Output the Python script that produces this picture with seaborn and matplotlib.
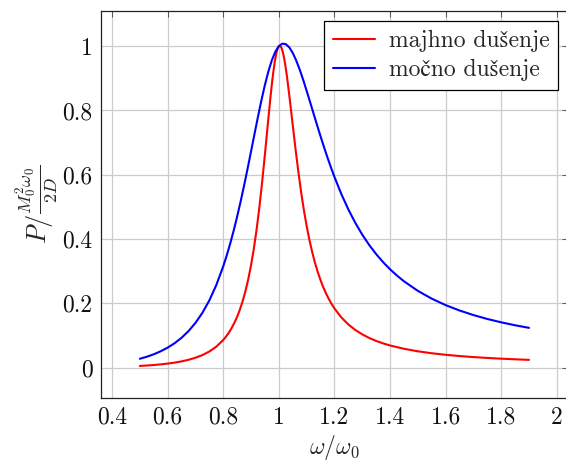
import matplotlib
matplotlib.use("Agg")
import matplotlib.pyplot as plt
import seaborn as sns
import pandas as pd

# Values
x_red = [0.5, 0.525, 0.55, 0.575, 0.6, 0.625, 0.65, 0.675, 0.7, 0.725, 0.75, 0.775,
         0.8, 0.81, 0.82, 0.83, 0.84, 0.85, 0.86, 0.87, 0.88, 0.89, 0.9, 0.91, 0.92,
         0.93, 0.94, 0.95, 0.96, 0.97, 0.975, 0.98, 0.985, 0.99, 0.995, 1.0, 1.005,
         1.01, 1.015, 1.02, 1.025, 1.03, 1.04, 1.05, 1.06, 1.07, 1.08, 1.09, 1.1,
         1.11, 1.12, 1.13, 1.14, 1.15, 1.16, 1.17, 1.18, 1.19, 1.2, 1.225, 1.25,
         1.275, 1.3, 1.325, 1.35, 1.375, 1.4, 1.45, 1.5, 1.55, 1.6, 1.65, 1.7, 1.75,
         1.8, 1.85, 1.9]
y_red = [0.0054, 0.0066, 0.0082, 0.0102, 0.0126, 0.0156, 0.0195, 0.0244, 0.0308,
         0.0391, 0.0502, 0.0652, 0.086, 0.0965, 0.1087, 0.1228, 0.1392, 0.1583,
         0.1807, 0.2071, 0.2382, 0.2749, 0.3183, 0.3695, 0.4293, 0.4986, 0.5772,
         0.6635, 0.7539, 0.8419, 0.8822, 0.9185, 0.9494, 0.9739, 0.9909, 1.0, 1.0009,
         0.9939, 0.9794, 0.9584, 0.9318, 0.9009, 0.8304, 0.755, 0.6806, 0.6108,
         0.5473, 0.4908, 0.441, 0.3975, 0.3595, 0.3264, 0.2975, 0.2722, 0.25, 0.2305,
         0.2132, 0.1979, 0.1843, 0.1561, 0.1344, 0.1173, 0.1036, 0.0924, 0.0832,
         0.0755, 0.069, 0.0587, 0.0509, 0.0448, 0.04, 0.0361, 0.0329, 0.0302, 0.0279,
         0.026, 0.0242]

x_blue = [0.5, 0.525, 0.55, 0.575, 0.6, 0.625, 0.65, 0.675, 0.7, 0.725, 0.75, 0.775,
          0.8, 0.8125, 0.825, 0.8375, 0.85, 0.8625, 0.875, 0.8875, 0.9, 0.9125, 0.925,
          0.9375, 0.95, 0.9625, 0.975, 0.9875, 1.0, 1.0125, 1.025, 1.0375, 1.05,
          1.0625, 1.075, 1.0875, 1.1, 1.1125, 1.125, 1.1375, 1.15, 1.1625, 1.175,
          1.1875, 1.2, 1.225, 1.25, 1.275, 1.3, 1.325, 1.35, 1.375, 1.4, 1.425, 1.45,
          1.5, 1.55, 1.6, 1.65, 1.7, 1.75, 1.8, 1.85, 1.9]
y_blue = [0.0276, 0.0339, 0.0416, 0.0509, 0.0622, 0.076, 0.0929, 0.1136, 0.1391,
          0.1704, 0.2091, 0.2568, 0.3151, 0.3488, 0.3857, 0.426, 0.4696, 0.5165,
          0.5662, 0.6184, 0.6723, 0.7267, 0.7805, 0.832, 0.8796, 0.9216, 0.9564,
          0.9828, 1.0, 1.0078, 1.0063, 0.9964, 0.9791, 0.9556, 0.9273, 0.8955, 0.8614,
          0.826, 0.7902, 0.7546, 0.7198, 0.6861, 0.6537, 0.6228, 0.5935, 0.5398,
          0.4923, 0.4506, 0.4139, 0.3817, 0.3533, 0.3283, 0.3061, 0.2864, 0.2688,
          0.2389, 0.2146, 0.1945, 0.1778, 0.1636, 0.1514, 0.141, 0.1318, 0.1238]

labels = ["majhno dušenje", "močno dušenje"]
colors = ["#ff0000", "#0000ff"]
x_ticks = [0.4, 0.6, 0.8, 1, 1.2, 1.4, 1.6, 1.8, 2]
x_tick_labels = ["0.4", "0.6", "0.8", "1", "1.2", "1.4", "1.6", "1.8", "2"]
y_ticks = [0, 0.2, 0.4, 0.6, 0.8, 1]
y_tick_labels = ["0", "0.2", "0.4", "0.6", "0.8", "1"]

df = pd.concat([
    pd.DataFrame({"x": x_red, "y": y_red, "series": labels[0]}),
    pd.DataFrame({"x": x_blue, "y": y_blue, "series": labels[1]}),
], ignore_index=True)

sns.set_style("white")
plt.rcParams["font.family"] = ["cmr10", "STIXGeneral", "DejaVu Serif"]
plt.rcParams["mathtext.fontset"] = "cm"
plt.rcParams["axes.formatter.use_mathtext"] = True

fig = plt.figure(figsize=(5.66, 4.62), dpi=100)
ax = fig.add_axes([0.1783, 0.1379, 0.8251, 0.8377])

sns.lineplot(data=df, x="x", y="y", hue="series", palette=colors,
             hue_order=labels, sort=False, estimator=None, linewidth=1.5, ax=ax)
for ln in ax.get_lines():
    ln.set_solid_joinstyle("round")

ax.set_xlim(0.36, 2.04)
ax.set_ylim(-0.0953, 1.1085)
ax.set_xticks(x_ticks)
ax.set_xticklabels(x_tick_labels)
ax.set_yticks(y_ticks)
ax.set_yticklabels(y_tick_labels)
ax.grid(True, color="#cccccc", linewidth=0.9)
ax.set_axisbelow(True)
ax.tick_params(direction="in", length=4, width=0.7, color="#555555",
               top=True, right=True, labelsize=17, pad=6, labelcolor="#111111")
for s in ax.spines.values():
    s.set_color("#222222")
    s.set_linewidth(0.9)

ax.set_xlabel(r"$\omega/\omega_0$", fontsize=17, labelpad=3)
ax.set_ylabel(r"$P/\frac{M_0^2\omega_0}{2D}$", fontsize=19, labelpad=2)

leg = ax.legend(loc="upper right", fontsize=17, frameon=True, fancybox=False,
                edgecolor="black", framealpha=1, handlelength=1.75,
                borderaxespad=0.4, borderpad=0.38, labelspacing=0.3,
                handletextpad=0.6)
leg.get_frame().set_linewidth(0.9)

fig.savefig("out.png", dpi=100)
